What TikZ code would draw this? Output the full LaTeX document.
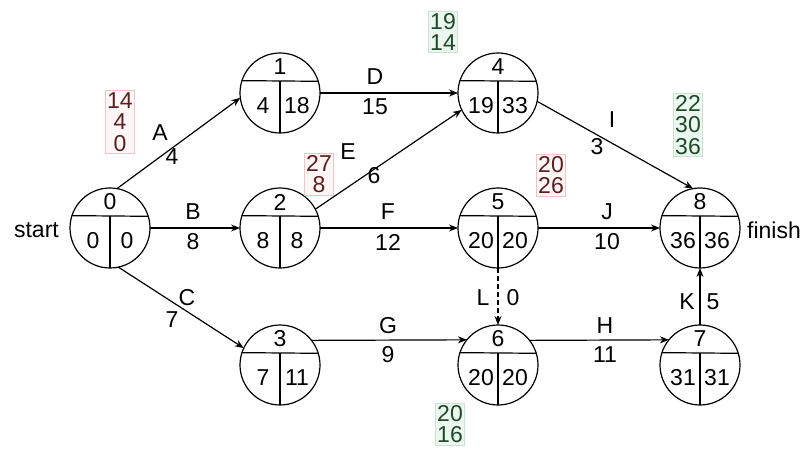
\documentclass[tikz,border=0pt]{standalone}
\usepackage{fontspec}
\setmainfont{Liberation Sans}
\usetikzlibrary{calc,arrows.meta}
\definecolor{textred}{HTML}{5A1F1F}
\definecolor{textgreen}{HTML}{1E4A2A}
\definecolor{borderred}{HTML}{F0C4C4}
\definecolor{fillred}{HTML}{FFF7F7}
\definecolor{bordergreen}{HTML}{C8E4D0}
\definecolor{fillgreen}{HTML}{ECF7EF}
\newcommand{\pertnode}[6]{%
  \node[evt] (#1) at (#2,#3) {};
  \draw[part] (#1.17.46) -- (#1.162.54);
  \draw[part] ($(#1.center)+(0,-12)$) -- (#1.south);
  \node[num] (#1t) at ($(#1.center)+(0,-26)$) {#4};
  \node[num] (#1l) at ($(#1.center)+(-17,13)$) {#5};
  \node[num] (#1r) at ($(#1.center)+(17,13)$) {#6};
}
\begin{document}
\begin{tikzpicture}[x=1pt,y=-1pt,
  evt/.style={circle,draw,line width=1.2pt,minimum size=80pt,inner sep=0pt,outer sep=0pt},
  part/.style={line width=1.2pt},
  num/.style={font=\fontsize{23}{23}\selectfont,inner sep=0pt},
  lab/.style={font=\fontsize{23}{23}\selectfont,inner sep=0pt},
  arr/.style={line width=1.2pt,-{Stealth[length=9pt,width=7pt]}},
  dashline/.style={dash pattern=on 5pt off 3pt},
  redbox/.style={draw=borderred,fill=fillred,text=textred,line width=0.7pt,align=center,
    font=\fontsize{23}{21.5}\selectfont,inner xsep=1.5pt,inner ysep=2pt},
  greenbox/.style={draw=bordergreen,fill=fillgreen,text=textgreen,line width=0.7pt,align=center,
    font=\fontsize{23}{21.5}\selectfont,inner xsep=1.5pt,inner ysep=2pt}
]
\useasboundingbox (0,0) rectangle (811,454);
\fill[white] (0,0) rectangle (811,454);

\pertnode{n0}{110}{228}{0}{0}{0}
\pertnode{n1}{280}{93}{1}{4}{18}
\pertnode{n2}{280}{228}{2}{8}{8}
\pertnode{n3}{280}{365}{3}{7}{11}
\pertnode{n4}{498}{93}{4}{19}{33}
\pertnode{n5}{498}{228}{5}{20}{20}
\pertnode{n6}{498}{365}{6}{20}{20}
\pertnode{n7}{700}{365}{7}{31}{31}
\pertnode{n8}{700}{228}{8}{36}{36}

\node[lab,anchor=east] (start) at (59,230) {start};
\node[lab,anchor=west] (finish) at (747,230) {finish};

% edges
\draw[arr] (n0.80) -- (n1.187);
\draw[arr] (n0) -- (n2);
\draw[arr] (n0.-78) -- (n3.155);
\draw[arr] (n1) -- (n4);
\draw[arr] (n2.28) -- (n4.205);
\draw[arr] (n2) -- (n5);
\draw[arr] (n3.38.7) -- (n6.141.3);
\draw[arr] (n6.38.7) -- (n7.141.3);
\draw[arr] (n4.-12) -- (n8.100);
\draw[arr] (n5) -- (n8);
\draw[arr] (n7) -- (n8);
\draw[arr,dashline] (n5) -- (n6);

% edge labels
\node[lab] (lA) at (160,133) {A};
\node[lab] (wA) at (172,157) {4};
\node[lab] (lB) at (193,212) {B};
\node[lab] (wB) at (193,242) {8};
\node[lab] (lC) at (187,298) {C};
\node[lab] (wC) at (172,320) {7};
\node[lab] (lE) at (348,152) {E};
\node[lab] (wE) at (374,176) {6};
\node[lab] (lD) at (375,77) {D};
\node[lab] (wD) at (375,107) {15};
\node[lab] (lF) at (388,212) {F};
\node[lab] (wF) at (388,242) {12};
\node[lab] (lG) at (388,326) {G};
\node[lab] (wG) at (388,355) {9};
\node[lab] (lH) at (605,326) {H};
\node[lab] (wH) at (605,355) {11};
\node[lab] (lI) at (612,120) {I};
\node[lab] (wI) at (597,147) {3};
\node[lab] (lJ) at (607,212) {J};
\node[lab] (wJ) at (607,242) {10};
\node[lab] (lK) at (687,302) {K};
\node[lab] (wK) at (713,302) {5};
\node[lab] (lL) at (483,298) {L};
\node[lab] (wL) at (513,298) {0};

% annotation boxes
\node[redbox] (b1) at (120,122) {14\\4\\0};
\node[redbox] (b2) at (319,174) {27\\8};
\node[greenbox] (b3) at (443,32) {19\\14};
\node[redbox] (b4) at (551,175) {20\\26};
\node[greenbox] (b5) at (688,125) {22\\30\\36};
\node[greenbox] (b6) at (450,424) {20\\16};
\end{tikzpicture}
\end{document}
